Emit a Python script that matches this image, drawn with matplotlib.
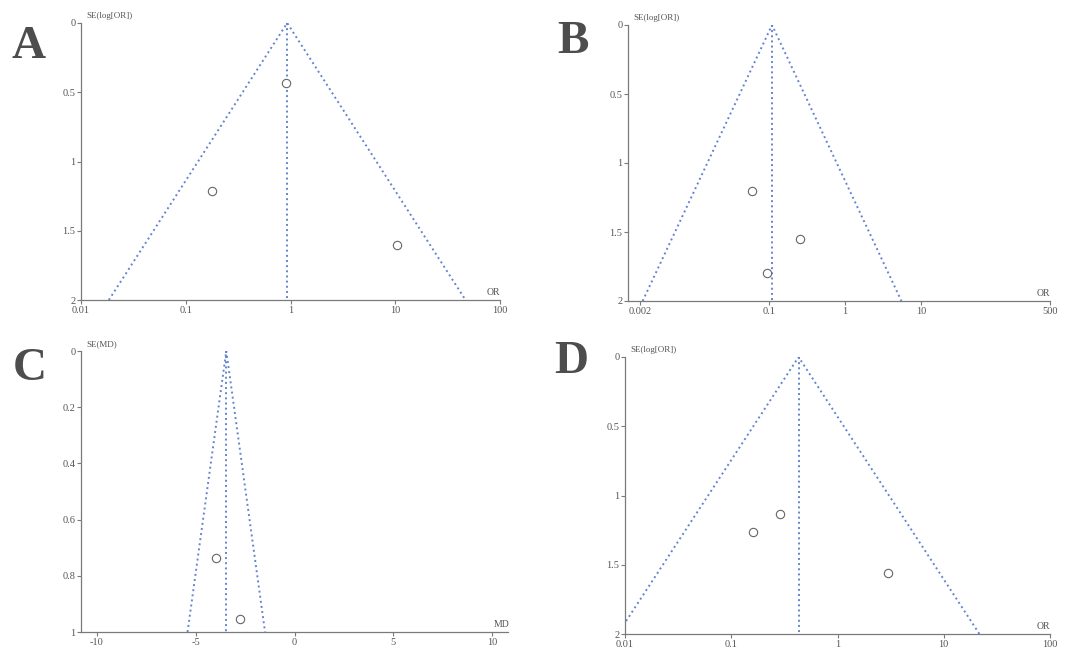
import numpy as np
import matplotlib.pyplot as plt

# Panel data
a_or = [0.18, 0.90, 10.5]
a_se = [1.21, 0.43, 1.60]
a_pooled = 0.93

b_or = [0.06, 0.26, 0.094]
b_se = [1.20, 1.55, 1.80]
b_pooled = 0.11

c_md = [-3.96, -2.74]
c_se = [0.737, 0.954]
c_pooled = -3.45

d_or = [0.16, 0.29, 3.0]
d_se = [1.26, 1.13, 1.56]
d_pooled = 0.43

or_ticks = [0.01, 0.1, 1, 10, 100]
or_ticklabels = ["0.01", "0.1", "1", "10", "100"]
b_ticks = [0.002, 0.1, 1, 10, 500]
b_ticklabels = ["0.002", "0.1", "1", "10", "500"]
md_ticks = [-10, -5, 0, 5, 10]
md_ticklabels = ["-10", "-5", "0", "5", "10"]
se_ticks_or = [0, 0.5, 1, 1.5, 2]
se_ticklabels_or = ["0", "0.5", "1", "1.5", "2"]
se_ticks_md = [0, 0.2, 0.4, 0.6, 0.8, 1]
se_ticklabels_md = ["0", "0.2", "0.4", "0.6", "0.8", "1"]

line_col = "#6584d0"
axis_col = "#7a7a7a"
text_col = "#555555"
serif = ["Liberation Serif", "DejaVu Serif"]

W, H = 1074, 649
fig = plt.figure(figsize=(W / 100, H / 100), dpi=100)


def px_axes(left, top, right, bottom):
    return fig.add_axes([left / W, 1 - bottom / H, (right - left) / W, (bottom - top) / H])


def style(ax, xticks, xlabels, yticks, ylabels, ylabel, xlabel):
    for s in ["top", "right"]:
        ax.spines[s].set_visible(False)
    for s in ["left", "bottom"]:
        ax.spines[s].set_color(axis_col)
        ax.spines[s].set_linewidth(0.9)
    ax.set_xticks(xticks)
    ax.set_xticklabels(xlabels)
    ax.set_yticks(yticks)
    ax.set_yticklabels(ylabels)
    ax.minorticks_off()
    ax.tick_params(colors=axis_col, labelcolor=text_col, labelsize=7.5, length=3, width=0.8, pad=1)
    for lab in ax.get_xticklabels() + ax.get_yticklabels():
        lab.set_family(serif)
    ax.text(0.012, 1.01, ylabel, transform=ax.transAxes, fontsize=6.5, color=text_col,
            family=serif, ha="left", va="bottom")
    ax.text(0.985, 0.012, xlabel, transform=ax.transAxes, fontsize=7, color=text_col,
            family=serif, ha="center", va="bottom")


def funnel_or(ax, pooled, se_max, xs, ses):
    lo = pooled * np.exp(-1.96 * se_max)
    hi = pooled * np.exp(1.96 * se_max)
    ax.plot([lo, pooled, hi], [se_max, 0, se_max], ls=":", color=line_col, lw=1.4)
    ax.plot([pooled, pooled], [0, se_max], ls=":", color=line_col, lw=1.4)
    ax.plot(xs, ses, "o", mfc="white", mec="#666666", mew=0.8, ms=6, ls="none")


def funnel_md(ax, pooled, se_max, xs, ses):
    lo = pooled - 1.96 * se_max
    hi = pooled + 1.96 * se_max
    ax.plot([lo, pooled, hi], [se_max, 0, se_max], ls=":", color=line_col, lw=1.4)
    ax.plot([pooled, pooled], [0, se_max], ls=":", color=line_col, lw=1.4)
    ax.plot(xs, ses, "o", mfc="white", mec="#666666", mew=0.8, ms=6, ls="none")


# A
axA = px_axes(81, 23, 500, 300)
axA.set_xscale("log")
funnel_or(axA, a_pooled, 2, a_or, a_se)
axA.set_xlim(0.01, 100)
axA.set_ylim(2, 0)
style(axA, or_ticks, or_ticklabels, se_ticks_or, se_ticklabels_or, "SE(log[OR])", "OR")

# B
axB = px_axes(628, 25, 1050, 301)
axB.set_xscale("log")
funnel_or(axB, b_pooled, 2, b_or, b_se)
axB.set_xlim(0.0014, 500)
axB.set_ylim(2, 0)
style(axB, b_ticks, b_ticklabels, se_ticks_or, se_ticklabels_or, "SE(log[OR])", "OR")

# C
axC = px_axes(81, 351, 508, 632)
funnel_md(axC, c_pooled, 1, c_md, c_se)
axC.set_xlim(-10.8, 10.8)
axC.set_ylim(1, 0)
style(axC, md_ticks, md_ticklabels, se_ticks_md, se_ticklabels_md, "SE(MD)", "MD")

# D
axD = px_axes(625, 357, 1050, 634)
axD.set_xscale("log")
funnel_or(axD, d_pooled, 2, d_or, d_se)
axD.set_xlim(0.01, 100)
axD.set_ylim(2, 0)
style(axD, or_ticks, or_ticklabels, se_ticks_or, se_ticklabels_or, "SE(log[OR])", "OR")

for lab, (x, y) in zip(["A", "B", "C", "D"], [(29, 47), (573, 42), (30, 369), (571, 362)]):
    fig.text(x / W, 1 - y / H, lab, fontsize=34, fontweight="bold", color="#4d4d4d",
             family=serif, ha="center", va="center")

fig.savefig("out.png", dpi=100)
